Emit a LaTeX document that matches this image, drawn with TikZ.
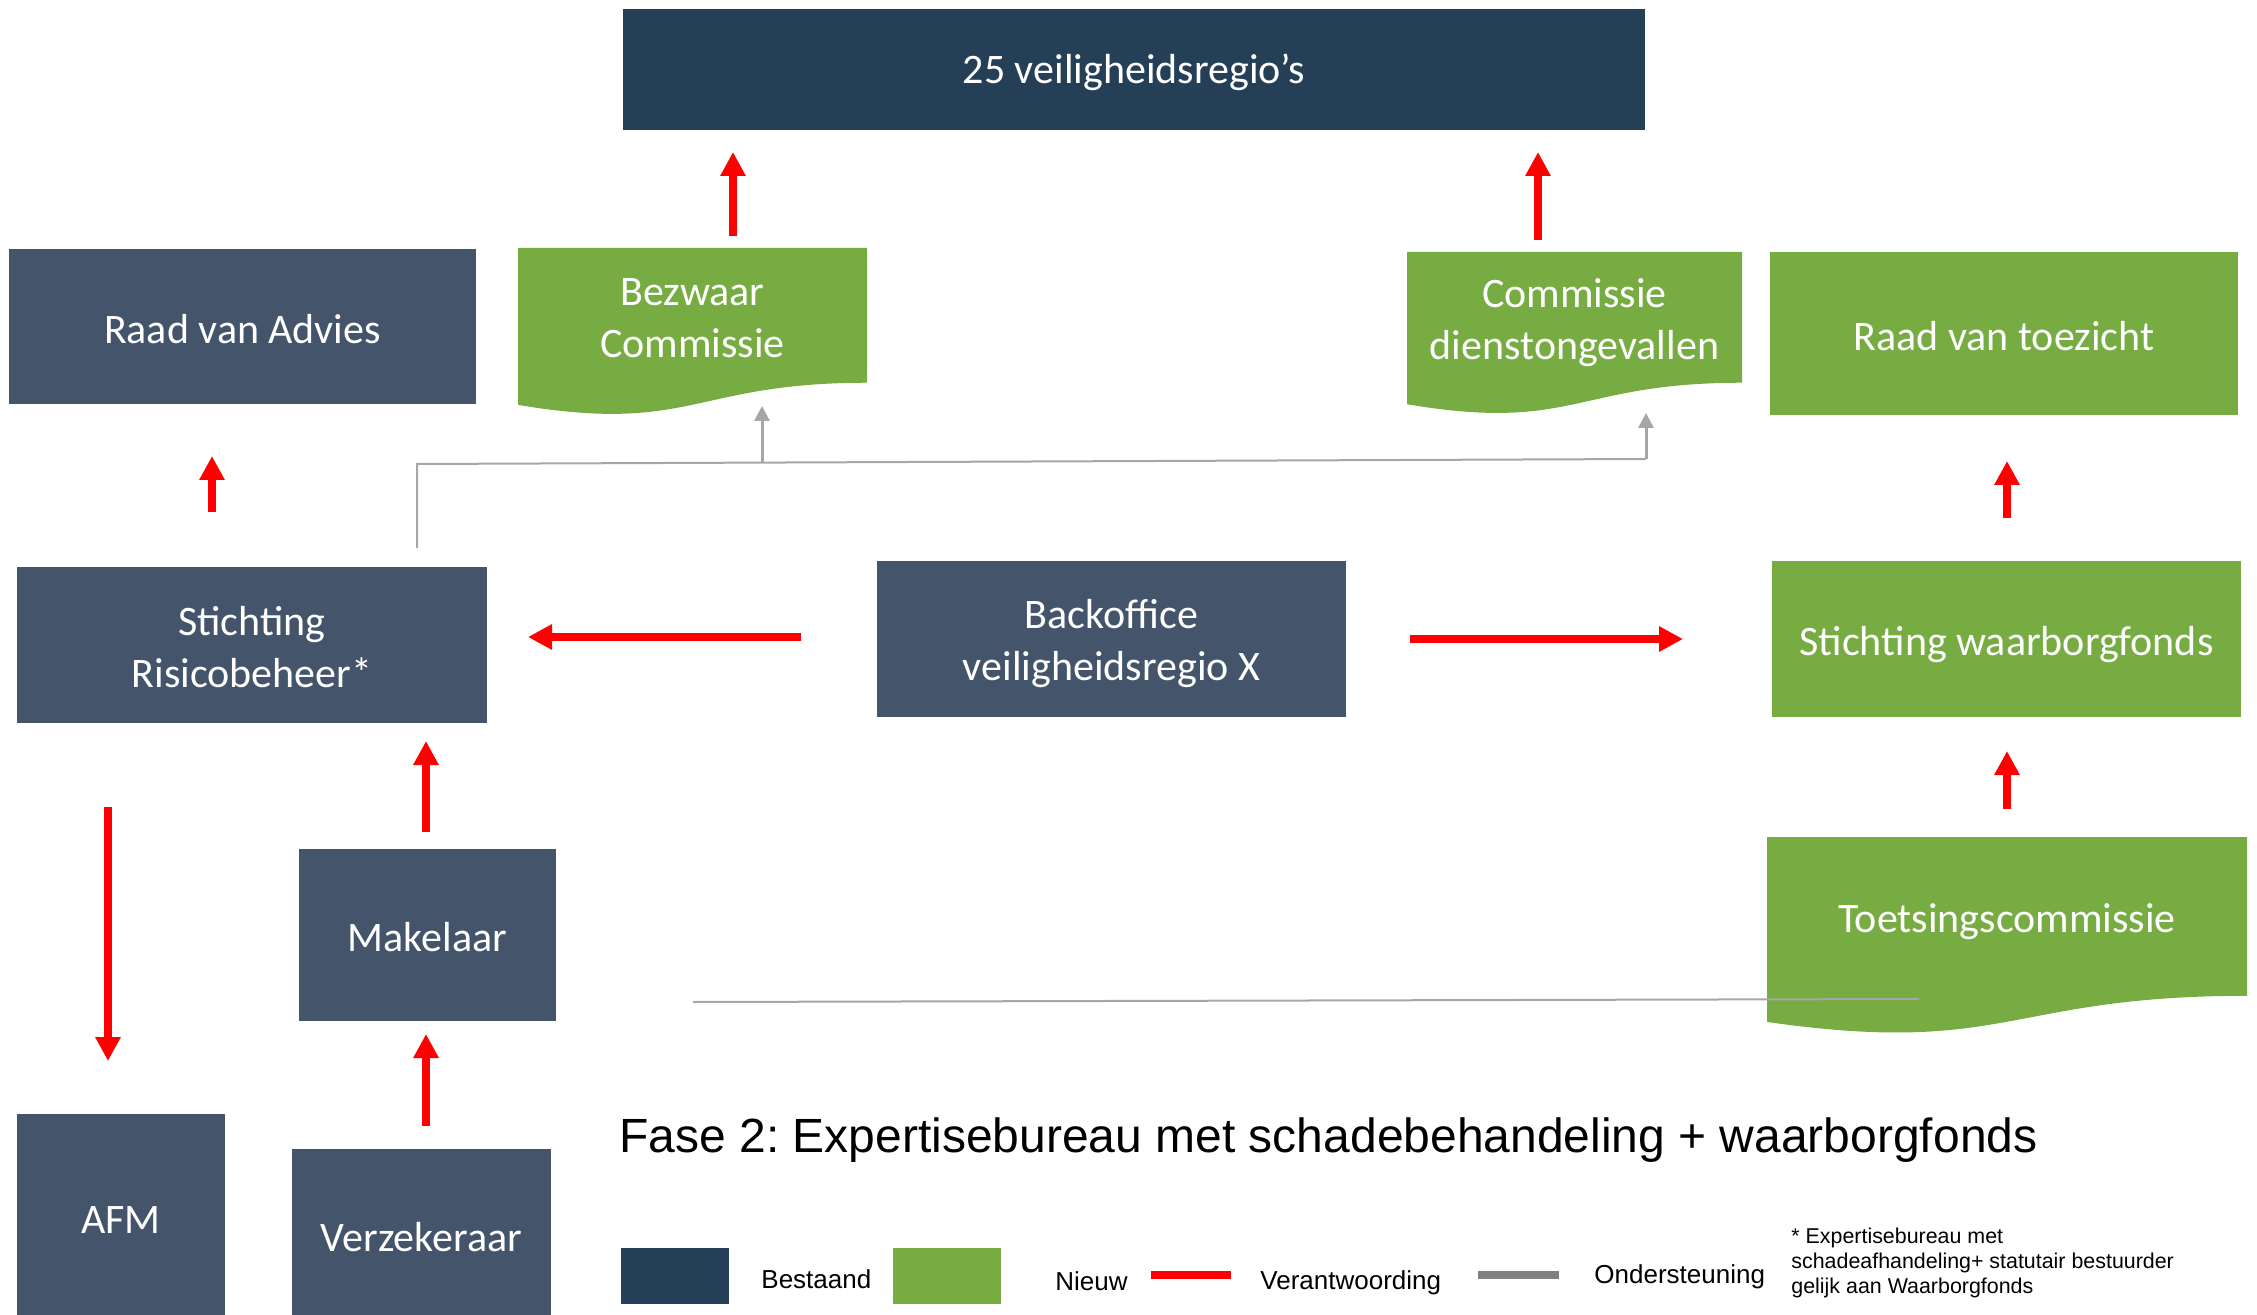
\documentclass[tikz,border=0pt]{standalone}
\usepackage{fontspec}
\setmainfont{Liberation Sans}
\newfontfamily\boxfont{Carlito}
\frenchspacing
\usetikzlibrary{arrows.meta}
\definecolor{navy}{HTML}{243F56}
\definecolor{slate}{HTML}{44546A}
\definecolor{grn}{HTML}{76AC42}
\definecolor{gline}{HTML}{A6A6A6}
\definecolor{lgray}{HTML}{808080}
\newcommand\docpath[4]{%
  \fill[grn] (#1,#2) -- ({#1+#3},#2) -- ({#1+#3},{#2+0.802*#4})
    .. controls ({#1+0.5*#3},{#2+0.802*#4}) and ({#1+0.5*#3},{#2+1.1075*#4}) .. (#1,{#2+0.934*#4}) -- cycle;}
\begin{document}
\begin{tikzpicture}[x=0.5pt,y=-0.5pt,
  boxtxt/.style={text=white, font=\boxfont\fontsize{21}{26}\selectfont, align=center, inner sep=0pt},
  lab/.style={boxtxt, yshift=#1},
  lab/.default=-1.5pt,
  sz/.style 2 args={minimum width=#1*0.5pt, minimum height=#2*0.5pt, inner sep=0pt},
  slatebox/.style={fill=slate},
  navybox/.style={fill=navy},
  greenbox/.style={fill=grn},
  redarr/.style={draw=red, line width=4pt, -{Triangle[width=12pt,length=12pt]}},
  grayarr/.style={draw=gline, line width=1.5pt, -{Triangle[width=7.5pt,length=7.5pt]}},
  grayline/.style={draw=gline, line width=1pt},
  legtxt/.style={font=\fontsize{13}{15}\selectfont, anchor=west, inner sep=0pt},
]
\useasboundingbox (0,0) rectangle (2257,1315);

% boxes
\node[navybox, sz={1022}{121}, label={[lab, name=topT]center:25 veiligheidsregio’s}] (top) at (1134,69.5) {};
\node[slatebox, sz={467}{155}, label={[lab, name=rvaT]center:Raad van Advies}] (rva) at (242.5,326.5) {};
\node[greenbox, sz={468}{163}, label={[lab, name=rvtT]center:Raad van toezicht}] (rvt) at (2004,333.5) {};
\node[slatebox, sz={470}{156}, label={[lab=-1.2pt, name=srbT]center:Stichting\\Risicobeheer*}] (srb) at (252,645) {};
\node[slatebox, sz={469}{156}, label={[lab=-2.4pt, name=boT]center:Backoffice\\veiligheidsregio X}] (bo) at (1111.5,639) {};
\node[greenbox, sz={469}{156}, label={[lab=-2.6pt, name=swfT]center:Stichting waarborgfonds}] (swf) at (2006.5,639) {};
\node[slatebox, sz={257}{172}, label={[lab=-0.8pt, name=makT]center:Makelaar}] (mak) at (427.5,935) {};
\node[slatebox, sz={208}{208}, label={[lab=-0.8pt, name=afmT]center:AFM}] (afm) at (121,1218) {};
\node[slatebox, sz={259}{172}, label={[lab=-0.8pt, name=vzkT]center:Verzekeraar}] (vzk) at (421.5,1235) {};

% document shapes
\docpath{518}{248}{349}{168}
\node[boxtxt] (bez) at (692.5,318.5) {Bezwaar\\Commissie};
\docpath{1407}{252}{335}{163}
\node[boxtxt] (cdo) at (1574.5,322.5) {Commissie\\dienstongevallen};
\docpath{1767}{837}{480}{198}
\node[boxtxt] (tc) at (2007,922) {Toetsingscommissie};

% red arrows
\coordinate (a1s) at (733,236); \coordinate (a1e) at (733,152);
\draw[redarr] (a1s) -- (a1e);
\coordinate (a2s) at (1538,240); \coordinate (a2e) at (1538,152);
\draw[redarr] (a2s) -- (a2e);
\coordinate (a3s) at (212,512); \coordinate (a3e) at (212,456);
\draw[redarr] (a3s) -- (a3e);
\coordinate (a4s) at (2007,518); \coordinate (a4e) at (2007,461);
\draw[redarr] (a4s) -- (a4e);
\coordinate (a5s) at (801,637); \coordinate (a5e) at (528,637);
\draw[redarr] (a5s) -- (a5e);
\coordinate (a6s) at (1410,639); \coordinate (a6e) at (1683,639);
\draw[redarr] (a6s) -- (a6e);
\coordinate (a7s) at (426,832); \coordinate (a7e) at (426,741);
\draw[redarr] (a7s) -- (a7e);
\coordinate (a8s) at (426,1126); \coordinate (a8e) at (426,1034);
\draw[redarr] (a8s) -- (a8e);
\coordinate (a9s) at (108,807); \coordinate (a9e) at (108,1061);
\draw[redarr] (a9s) -- (a9e);
\coordinate (a10s) at (2007,809); \coordinate (a10e) at (2007,751);
\draw[redarr] (a10s) -- (a10e);

% gray support lines
\coordinate (g0) at (417,548);
\coordinate (g1) at (417,464);
\coordinate (g2) at (1646,459);
\coordinate (g3) at (1646,413);
\coordinate (gb) at (762,463);
\coordinate (gbt) at (762,406);
\draw[grayline] (g0) -- (g1) -- (g2);
\draw[grayarr] (g2) -- (g3);
\draw[grayarr] (gb) -- (gbt);
\coordinate (t0) at (693,1002);
\coordinate (t1) at (1919,999);
\draw[draw=gline, line width=1pt] (t0) -- (t1);

% title
\node[anchor=west, inner sep=0pt, font=\fontsize{24}{28}\selectfont] (title) at (619,1140)
  {Fase 2: Expertisebureau met schadebehandeling + waarborgfonds};

% legend
\node[fill=navy, sz={108}{56}] (lgbest) at (675,1276) {};
\node[legtxt] (lbest) at (761,1279) {Bestaand};
\node[fill=grn, sz={108}{56}] (lgnieuw) at (947,1276) {};
\node[legtxt] (lnieuw) at (1055,1281) {Nieuw};
\coordinate (lr0) at (1151,1275); \coordinate (lr1) at (1231,1275);
\draw[draw=red, line width=4pt] (lr0) -- (lr1);
\node[legtxt] (lver) at (1260,1283) {Verantwoording};
\coordinate (lg0) at (1478,1275); \coordinate (lg1) at (1559,1275);
\draw[draw=lgray, line width=4pt] (lg0) -- (lg1);
\node[legtxt] (lond) at (1594,1277) {Ondersteuning};
\node[anchor=north west, inner sep=0pt, align=left, font=\fontsize{10.7}{12.5}\selectfont] (fn) at (1791,1228)
  {* Expertisebureau met\\schadeafhandeling+ statutair bestuurder\\gelijk aan Waarborgfonds};
\end{tikzpicture}
\end{document}
